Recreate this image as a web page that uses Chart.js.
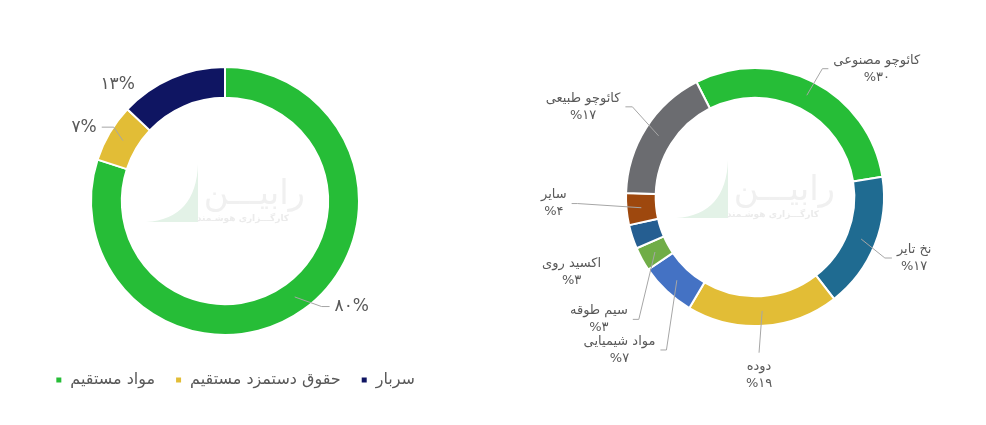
<!DOCTYPE html>
<html lang="fa">
<head>
<meta charset="utf-8">
<script src="https://cdn.jsdelivr.net/npm/chart.js@4.4.1/dist/chart.umd.min.js"></script>
<style>
    html, body { margin: 0; padding: 0; background: #fff; overflow: hidden; }
    #wrap { position: relative; width: 986px; height: 425px; }
    #costChart { position: absolute; left: 0; top: 0; }
    #materialChart { position: absolute; left: 500px; top: 0; }
</style>
</head>
<body>
<div id="wrap">
    <canvas id="costChart" width="450" height="425"></canvas>
    <canvas id="materialChart" width="486" height="425"></canvas>
</div>
<script>
// Cost structure (left)
const costLabels = ['مواد مستقیم', 'حقوق دستمزد مستقیم', 'سربار'];
const costShares = [80, 7, 13];
const costColors = ['#26bd37', '#e2bd36', '#0f1562'];

// Raw materials (right)
const materialLabels = ['کائوچو مصنوعی', 'نخ تایر', 'دوده', 'مواد شیمیایی', 'سیم طوقه', 'اکسید روی', 'سایر', 'کائوچو طبیعی'];
const materialShares = [30, 17, 19, 7, 3, 3, 4, 17];
const materialColors = ['#26bd37', '#1f6b91', '#e2bd36', '#4472c4', '#70ad47', '#255e91', '#9e480e', '#6b6c70'];

const FONT = '"DejaVu Sans", sans-serif';
const faDigits = n => String(n).replace(/\d/g, d => '۰۱۲۳۴۵۶۷۸۹'[d]);

// faint logo in the middle of each ring
const watermark = {
    id: 'watermark',
    beforeDatasetsDraw(chart) {
        const arc = chart.getDatasetMeta(0).data[0];
        if (!arc) return;
        const cx = arc.x, cy = arc.y;
        const ctx = chart.ctx;
        ctx.save();
        ctx.fillStyle = '#e3f2e7';
        ctx.beginPath();
        ctx.moveTo(cx - 79, cy + 21);
        ctx.quadraticCurveTo(cx - 29, cy + 18, cx - 27, cy - 37);
        ctx.lineTo(cx - 27, cy + 21);
        ctx.closePath();
        ctx.fill();
        ctx.fillStyle = '#f0f0f0';
        ctx.textAlign = 'right';
        ctx.textBaseline = 'middle';
        ctx.font = '34px ' + FONT;
        ctx.fillText('رابیـــن', cx + 80, cy - 6);
        ctx.fillStyle = '#ebebeb';
        ctx.font = 'bold 9px ' + FONT;
        ctx.fillText('کارگـــزاری هوشـمند', cx + 64, cy + 18);
        ctx.restore();
    }
};

// outside labels with leader lines
const leaderLabels = {
    id: 'leaderLabels',
    afterDatasetsDraw(chart, args, opts) {
        const ctx = chart.ctx;
        const meta = chart.getDatasetMeta(0);
        const values = chart.data.datasets[0].data;
        const names = chart.data.labels;
        ctx.save();
        ctx.font = opts.fontSize + 'px ' + FONT;
        ctx.textBaseline = 'middle';
        ctx.textAlign = 'center';
        meta.data.forEach((arc, i) => {
            const lay = opts.layout[i];
            const mid = (arc.startAngle + arc.endAngle) / 2;
            const cos = Math.cos(mid), sin = Math.sin(mid);
            const rm = (arc.innerRadius + arc.outerRadius) / 2;
            const ax = arc.x + cos * rm, ay = arc.y + sin * rm;
            const ex = arc.x + cos * (arc.outerRadius + opts.ext) + lay.dx;
            const ey = arc.y + sin * (arc.outerRadius + opts.ext) + lay.dy;
            const h = lay.h || 0;
            const gap = opts.gap;

            if (lay.line !== false) {
                ctx.strokeStyle = '#a6a6a6';
                ctx.lineWidth = 1;
                ctx.beginPath();
                ctx.moveTo(ax, ay);
                ctx.lineTo(ex, ey);
                if (lay.side === 'right') ctx.lineTo(ex + h, ey);
                if (lay.side === 'left') ctx.lineTo(ex - h, ey);
                ctx.stroke();
            }

            const pct = opts.percentFirst ? '%' + faDigits(values[i]) : faDigits(values[i]) + '%';
            const lines = opts.showName ? [names[i], pct] : [pct];
            const bw = Math.max(...lines.map(t => ctx.measureText(t).width));
            const lh = opts.lineHeight;
            let cxText, y0;
            if (lay.side === 'right') {
                cxText = ex + h + gap + bw / 2;
                y0 = ey - (lines.length - 1) * lh / 2;
            } else if (lay.side === 'left') {
                cxText = ex - h - gap - bw / 2;
                y0 = ey - (lines.length - 1) * lh / 2;
            } else {
                cxText = ex;
                y0 = ey + gap + lh / 2;
            }
            ctx.fillStyle = '#595959';
            lines.forEach((t, k) => ctx.fillText(t, cxText, y0 + k * lh));
        });
        ctx.restore();
    }
};

new Chart(document.getElementById('costChart'), {
    type: 'doughnut',
    data: {
        labels: costLabels,
        datasets: [{
            data: costShares,
            backgroundColor: costColors,
            borderColor: '#fff',
            borderWidth: 2
        }]
    },
    options: {
        responsive: false,
        animation: false,
        cutout: '77%',
        layout: { padding: { top: 66, bottom: 27, left: 15, right: 15 } },
        plugins: {
            tooltip: { enabled: false },
            legend: {
                position: 'bottom',
                align: 'end',
                title: { display: true, text: ' ', font: { size: 10, lineHeight: 1 }, padding: { top: 6, bottom: 0 } },
                labels: {
                    boxWidth: 7,
                    boxHeight: 7,
                    padding: 20,
                    color: '#595959',
                    font: { family: FONT, size: 16 }
                }
            },
            leaderLabels: {
                fontSize: 17,
                lineHeight: 20,
                ext: 15,
                gap: 5,
                showName: false,
                percentFirst: false,
                layout: [
                    { side: 'right', dx: 9, dy: -15, h: 8 },
                    { side: 'left', dx: 17, dy: 2, h: 12 },
                    { side: 'left', dx: -26, dy: 20, line: false }
                ]
            }
        }
    },
    plugins: [watermark, leaderLabels]
});

new Chart(document.getElementById('materialChart'), {
    type: 'doughnut',
    data: {
        labels: materialLabels,
        datasets: [{
            data: materialShares,
            backgroundColor: materialColors,
            borderColor: '#fff',
            borderWidth: 2
        }]
    },
    options: {
        responsive: false,
        animation: false,
        cutout: '77%',
        rotation: -27,
        layout: { padding: { top: 67, bottom: 98, left: 24, right: 0 } },
        plugins: {
            tooltip: { enabled: false },
            legend: { display: false },
            leaderLabels: {
                fontSize: 13,
                lineHeight: 17,
                ext: 15,
                gap: 5,
                showName: true,
                percentFirst: true,
                layout: [
                    { side: 'right', dx: 2, dy: 0, h: 6 },
                    { side: 'right', dx: -4, dy: 8, h: 7 },
                    { side: 'below', dx: -5, dy: 12 },
                    { side: 'left', dx: 10, dy: 48, h: 6 },
                    { side: 'left', dx: 10, dy: 53, h: 6 },
                    { side: 'left', dx: -12, dy: 31, line: false },
                    { side: 'left', dx: -34, dy: -7, h: 6 },
                    { side: 'left', dx: -1, dy: -13, h: 7 }
                ]
            }
        }
    },
    plugins: [watermark, leaderLabels]
});
</script>
</body>
</html>
